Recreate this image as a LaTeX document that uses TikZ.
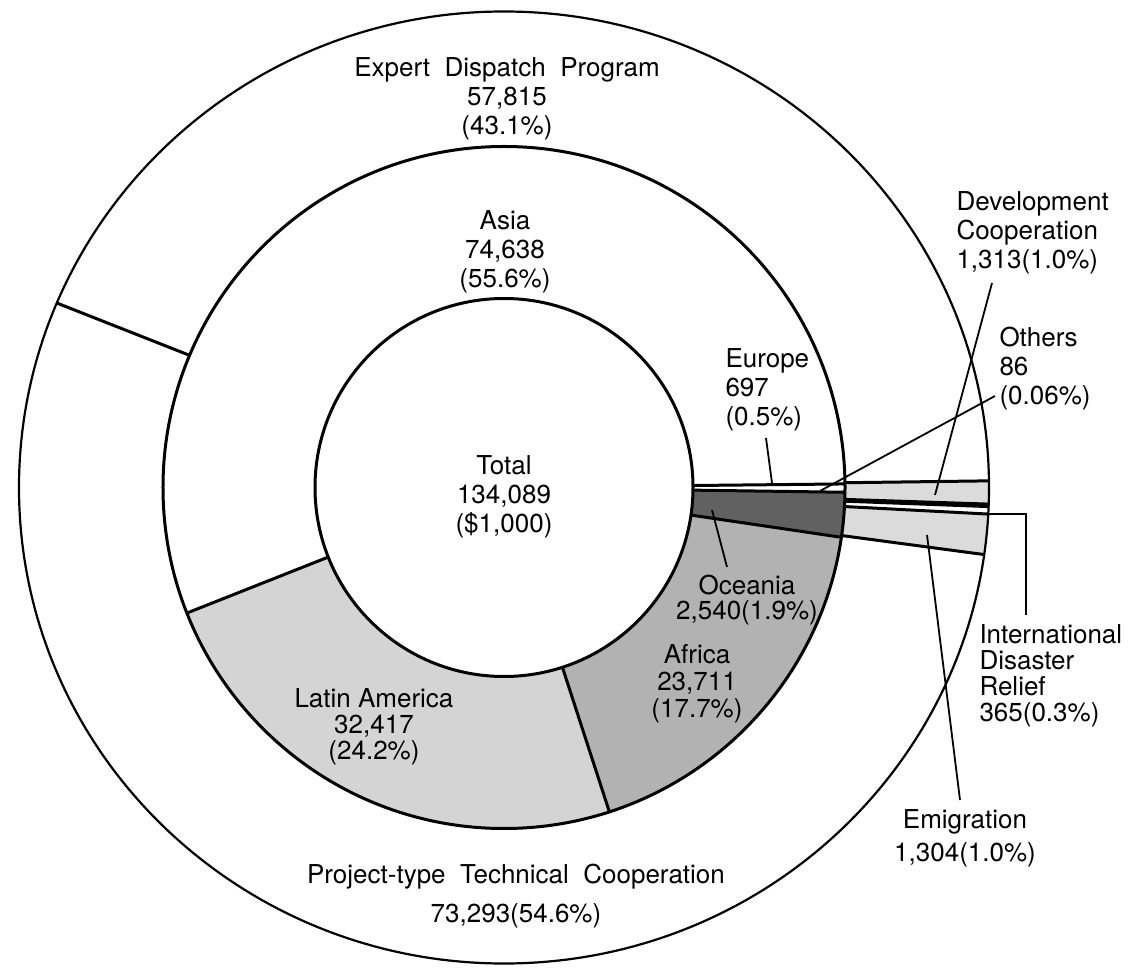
\documentclass[tikz,border=0pt]{standalone}
\usepackage{fontspec}
\setmainfont{TeX Gyre Heros}

\begin{document}
\begin{tikzpicture}
  [x=0.5pt,y=0.5pt,line width=1.5pt,
   every node/.style={font=\fontsize{13}{14.5}\selectfont,align=center,inner sep=0pt},
   side/.style={anchor=west,align=left},
   lead/.style={line width=0.9pt}]
  \useasboundingbox (-504,-480.5) rectangle (624,487.5);

  \foreach \a/\b/\c in {201.6/288/black!17, 288/351.6/black!30, 351.6/359.2/black!62}
    \fill[\c] (\a:189) arc[start angle=\a,end angle=\b,radius=189]
      -- (\b:341) arc[start angle=\b,end angle=\a,radius=341] -- cycle;
  \foreach \a/\b in {-8.1/-3.2, -2.0/0.8}
    \fill[black!14] (\a:341) arc[start angle=\a,end angle=\b,radius=341]
      -- ({485*cos(\b)},{476*sin(\b)}) arc[start angle=\b,end angle=\a,x radius=485,y radius=476] -- cycle;

  \draw (0,0) circle[radius=189];
  \draw (0,0) circle[radius=341];
  \draw[line width=1.1pt] (0,0) ellipse[x radius=485,y radius=476];
  \foreach \a in {0.6,-0.8,-8.4,-72,201.6}
    \draw (\a:189) -- (\a:341);
  \foreach \a in {157.2,0.8,-2.0,-2.3,-3.2,-8.1}
    \draw (\a:341) -- ({485*cos(\a)},{476*sin(\a)});

  \node (expert) at (3,389) {Expert\ \ Dispatch\ \ Program\\57,815\\(43.1\%)};
  \node (asia) at (1,235.5) {Asia\\74,638\\(55.6\%)};
  \node (total) at (0,-9.5) {Total\\134,089\\(\$1,000)};
  \node[side] (europe) at (220,97.5) {Europe\\697\\(0.5\%)};
  \node[side] (devcoop) at (451,254.5) {Development\\Cooperation\\1,313(1.0\%)};
  \node[side] (others) at (494,118.5) {Others\\86\\(0.06\%)};
  \node[side,font=\fontsize{13}{13}\selectfont] (relief) at (474,-188.5)
    {International\\Disaster\\Relief\\365(0.3\%)};
  \node (emigration) at (461,-350.5) {Emigration\\[2pt]1,304(1.0\%)};
  \node[font=\fontsize{13}{12.5}\selectfont] (oceania) at (243,-112.5) {Oceania\\2,540(1.9\%)};
  \node[font=\fontsize{13}{13.5}\selectfont] (africa) at (193,-196.5) {Africa\\23,711\\(17.7\%)};
  \node[font=\fontsize{13}{13}\selectfont] (latin) at (-130,-239.5) {Latin America\\32,417\\(24.2\%)};
  \node (project) at (12,-408.5) {Project-type\ \ Technical\ \ Cooperation\\[5pt]73,293(54.6\%)};

  \coordinate (eu-a) at (262,49.5);   \coordinate (eu-b) at (268,4.5);
  \coordinate (dc-a) at (488,204.5);  \coordinate (dc-b) at (431,-7.5);
  \coordinate (ot-a) at (491,91.5);   \coordinate (ot-b) at (316,-3.5);
  \coordinate (em-a) at (456,-312.5); \coordinate (em-b) at (423,-47.5);
  \coordinate (oc-a) at (223,-79.5);  \coordinate (oc-b) at (208,-22.5);
  \coordinate (re-a) at (522,-127.5); \coordinate (re-b) at (476,-26.5);
  \foreach \from/\to in {eu-a/eu-b,dc-a/dc-b,ot-a/ot-b,em-a/em-b,oc-a/oc-b}
    \draw[lead] (\from) -- (\to);
  \draw[lead] (re-a) |- (re-b);
\end{tikzpicture}
\end{document}
